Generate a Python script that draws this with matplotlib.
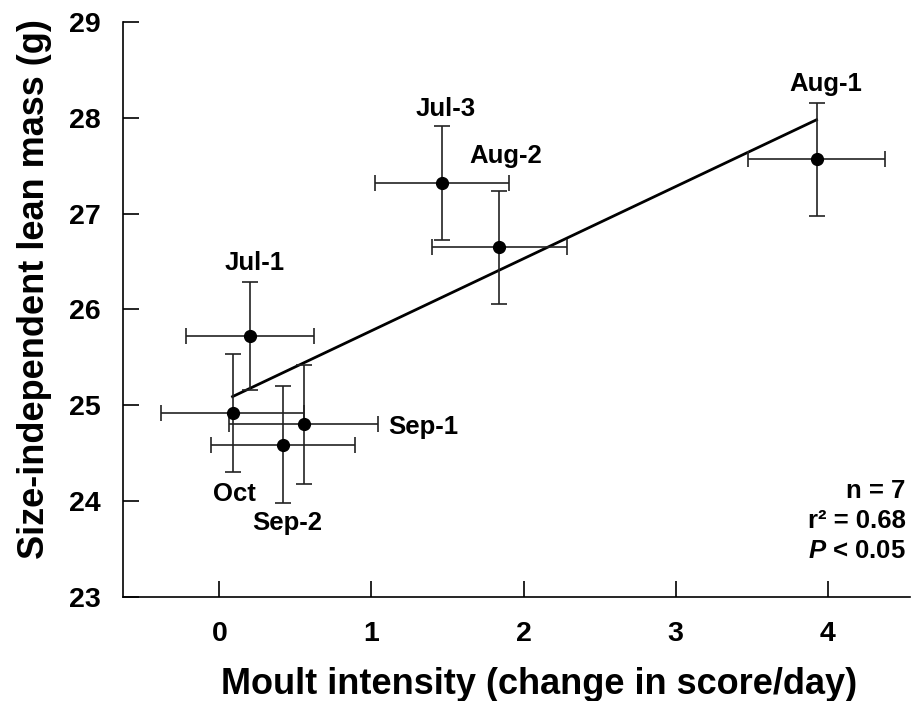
import numpy as np
import matplotlib
matplotlib.use('Agg')
import matplotlib.pyplot as plt

plt.rcParams['font.family'] = ['Liberation Sans', 'DejaVu Sans']
plt.rcParams['font.weight'] = 'bold'
plt.rcParams['mathtext.fontset'] = 'custom'
plt.rcParams['mathtext.it'] = 'Liberation Sans:italic:bold'
plt.rcParams['mathtext.rm'] = 'Liberation Sans:bold'

# --- data ---
labels = ['Jul-1', 'Oct', 'Sep-1', 'Sep-2', 'Jul-3', 'Aug-2', 'Aug-1']
moult = [0.20, 0.087, 0.556, 0.42, 1.465, 1.84, 3.925]
moult_se = [0.42, 0.47, 0.49, 0.475, 0.44, 0.445, 0.45]
lean_mass = [25.72, 24.92, 24.80, 24.59, 27.32, 26.65, 27.57]
lean_mass_se = [0.565, 0.615, 0.625, 0.61, 0.59, 0.59, 0.59]

stats_lines = ['n = 7', 'r² = 0.68', '$P$ < 0.05']

# label offsets in points (placement only), baseline aligned
label_offsets = {
    'Jul-1': (3.4, 47.5, 'center'),
    'Oct': (1.1, -63.4, 'center'),
    'Sep-1': (60.5, -6.5, 'left'),
    'Sep-2': (3.2, -61.2, 'center'),
    'Jul-3': (2.7, 48.2, 'center'),
    'Aug-2': (4.7, 60.5, 'center'),
    'Aug-1': (6.8, 49, 'center'),
}

fig = plt.figure(figsize=(9.11, 7.01), dpi=100)
ax = fig.add_axes([0.135, 0.1484, 0.864, 0.8202])

ax.errorbar(moult, lean_mass, xerr=moult_se, yerr=lean_mass_se, fmt='o',
            color='black', ms=8.5, ecolor='#222222', elinewidth=1.2,
            capsize=6, capthick=1.2, zorder=3)

# least-squares line over the observed range
slope, intercept = np.polyfit(moult, lean_mass, 1)
xs = np.array([min(moult), max(moult)])
ax.plot(xs, slope * xs + intercept, color='black', lw=2, zorder=2)

for lab, x, y in zip(labels, moult, lean_mass):
    dx, dy, ha = label_offsets[lab]
    ax.annotate(lab, (x, y), xytext=(dx, dy), textcoords='offset points',
                ha=ha, va='baseline', fontsize=18.5, fontweight='bold')

for i, line in enumerate(stats_lines):
    ax.text(0.9943, 0.172 - i * 0.0522, line, transform=ax.transAxes,
            ha='right', va='baseline', fontsize=18.5, fontweight='bold')

ax.set_xlim(-0.633, 4.54)
ax.set_ylim(23, 29)
ax.set_xticks([0, 1, 2, 3, 4])
ax.set_yticks([23, 24, 25, 26, 27, 28, 29])
ax.spines['top'].set_visible(False)
ax.spines['right'].set_visible(False)
for s in ['left', 'bottom']:
    ax.spines[s].set_linewidth(1.2)
ax.tick_params(direction='in', length=11.5, width=1.2, labelsize=20.5)
ax.tick_params(axis='y', pad=16)
ax.tick_params(axis='x', pad=17)

ax.set_xlabel('Moult intensity (change in score/day)', fontsize=26, fontweight='bold')
ax.set_ylabel('Size-independent lean mass (g)', fontsize=26, fontweight='bold')
ax.xaxis.label.set_va('center')
ax.yaxis.label.set_va('center')
ax.xaxis.set_label_coords(0.5286, -0.153)
ax.yaxis.set_label_coords(-0.112, 0.536)

fig.savefig('out.png', dpi=100)
